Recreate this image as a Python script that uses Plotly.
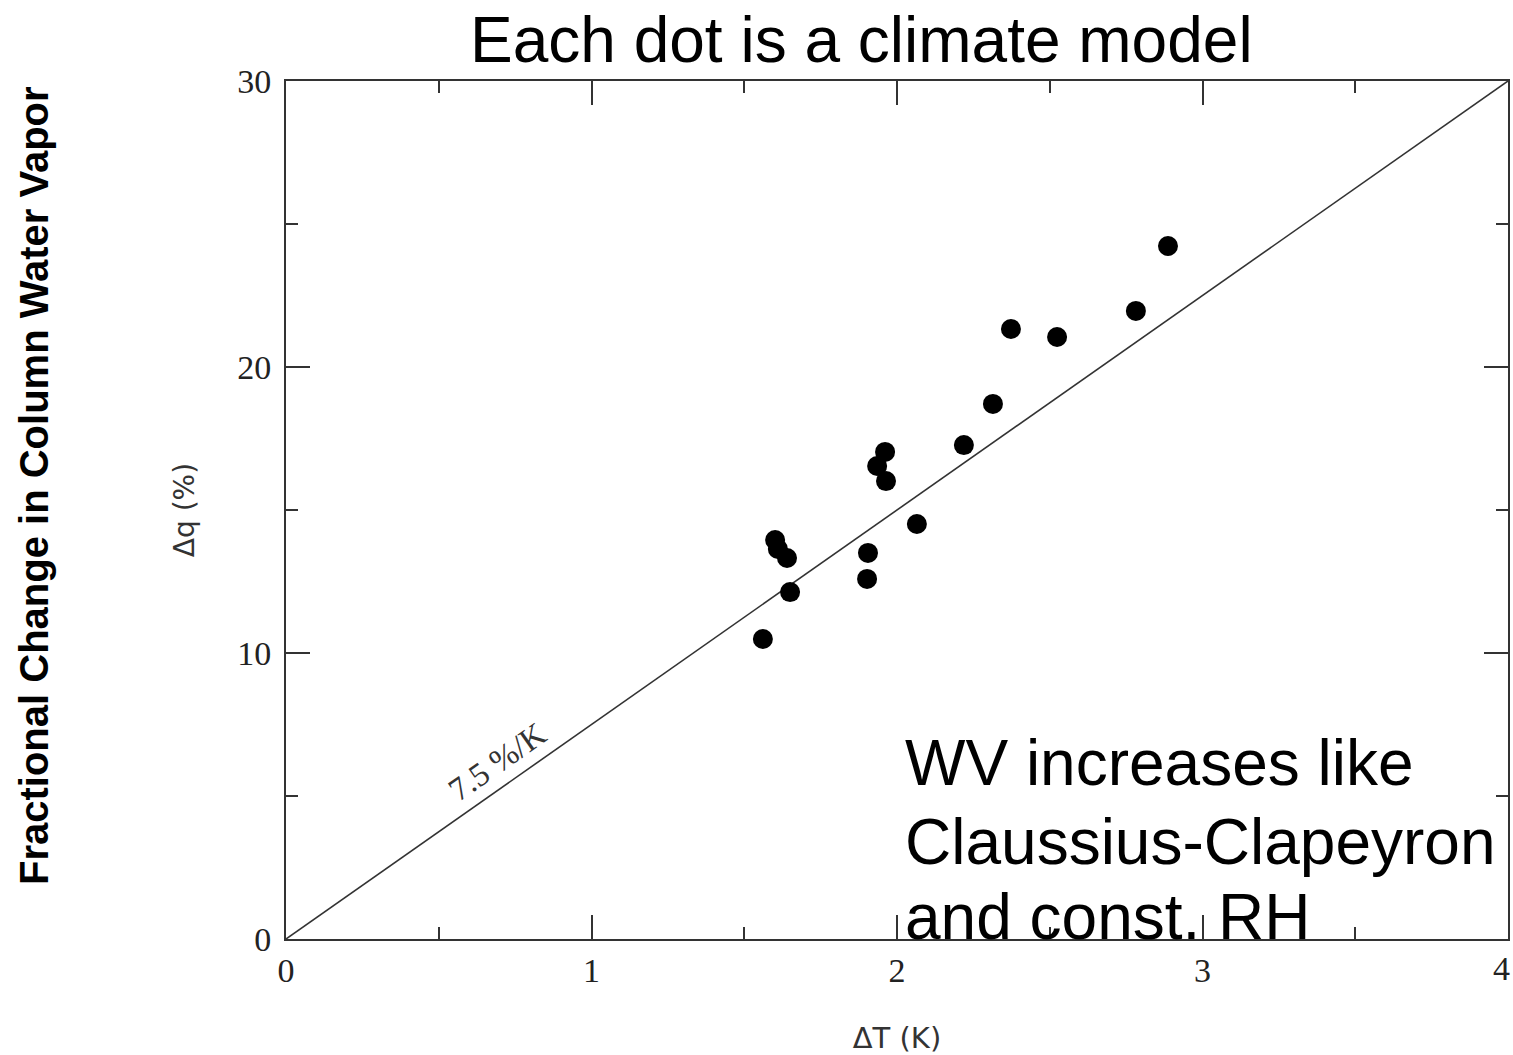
import plotly.graph_objects as go

# Data: each dot is a climate model (Delta T in K, Delta q in %)
delta_t = [1.561, 1.601, 1.610, 1.640, 1.650, 1.902, 1.905, 1.935, 1.961, 1.964,
           2.065, 2.219, 2.314, 2.373, 2.524, 2.782, 2.887]
delta_q = [10.49, 13.95, 13.64, 13.32, 12.13, 12.59, 13.50, 16.54, 17.03, 16.01,
           14.51, 17.27, 18.71, 21.33, 21.05, 21.96, 24.23]

cc_x = [0, 4]
cc_rate = 7.5  # %/K
cc_y = [v * cc_rate for v in cc_x]

x_ticks = [0, 1, 2, 3, 4]
y_ticks = [0, 10, 20, 30]

W, H = 1513, 1055
L, R, T, B = 286, 1508, 81, 939

tick_font = dict(family="Liberation Serif, DejaVu Serif, serif", size=34, color="#222222")

fig = go.Figure()
fig.add_trace(go.Scatter(x=cc_x, y=cc_y, mode="lines",
                         line=dict(color="#333333", width=1.6),
                         showlegend=False, hoverinfo="skip"))
fig.add_trace(go.Scatter(x=delta_t, y=delta_q, mode="markers",
                         marker=dict(color="black", size=20),
                         showlegend=False))

axis_common = dict(
    showgrid=False, zeroline=False, showline=True, linecolor="#333333", linewidth=2,
    mirror="allticks", ticks="inside", ticklen=24, tickwidth=2, tickcolor="#333333",
    automargin=False, tickfont=tick_font,
)

# last x tick label sits at the page edge, drawn as an annotation kept inside the page
fig.update_xaxes(range=[0, 4], tickvals=x_ticks,
                 ticktext=[str(v) if v != x_ticks[-1] else "" for v in x_ticks],
                 minor=dict(dtick=0.5, ticks="inside", ticklen=12, tickwidth=2, tickcolor="#333333"),
                 title=dict(text="ΔT (K)", font=dict(family="DejaVu Sans, sans-serif", size=29, color="#333333"),
                            standoff=42),
                 **axis_common)
fig.update_yaxes(range=[0, 30], tickvals=y_ticks, ticktext=[str(v) for v in y_ticks],
                 ticklabelstandoff=6,
                 minor=dict(dtick=5, ticks="inside", ticklen=12, tickwidth=2, tickcolor="#333333"),
                 title=dict(text="Δq (%)", font=dict(family="DejaVu Sans, sans-serif", size=28, color="#333333"),
                            standoff=34),
                 **axis_common)

def py(p):
    return (B - p) / (B - T)

def px(p):
    return (p - L) / (R - L)

annotations = [
    dict(text=str(x_ticks[-1]), xref="paper", yref="paper", x=px(1512), y=py(968),
         xanchor="right", yanchor="middle", showarrow=False, font=tick_font),
    dict(text="Each dot is a climate model", xref="paper", yref="paper",
         x=px(861), y=py(40), xanchor="center", yanchor="middle", showarrow=False,
         font=dict(family="Liberation Sans, Arial, sans-serif", size=64, color="black")),
    dict(text="<b>Fractional Change in Column Water Vapor</b>", xref="paper", yref="paper",
         x=px(34), y=py(486), xanchor="center", yanchor="middle", showarrow=False, textangle=-90,
         font=dict(family="Liberation Sans Narrow, Liberation Sans, Arial, sans-serif", size=40, color="black")),
    dict(text="7.5 %/K", xref="x", yref="y", x=0.69, y=6.2, showarrow=False, textangle=-35,
         xanchor="center", yanchor="middle",
         font=dict(family="Liberation Serif, DejaVu Serif, serif", size=33, color="#333333")),
]
for txt, ypx in [("WV increases like", 763), ("Claussius-Clapeyron", 842), ("and const. RH", 917)]:
    annotations.append(dict(text=txt, xref="paper", yref="paper", x=px(903), y=py(ypx),
                            xanchor="left", yanchor="middle", showarrow=False,
                            font=dict(family="Liberation Sans, Arial, sans-serif", size=64, color="black")))

fig.update_layout(
    width=W, height=H,
    margin=dict(l=L, r=W - R, t=T, b=H - B),
    plot_bgcolor="white", paper_bgcolor="white",
    annotations=annotations,
)

fig.write_html("out.html")
